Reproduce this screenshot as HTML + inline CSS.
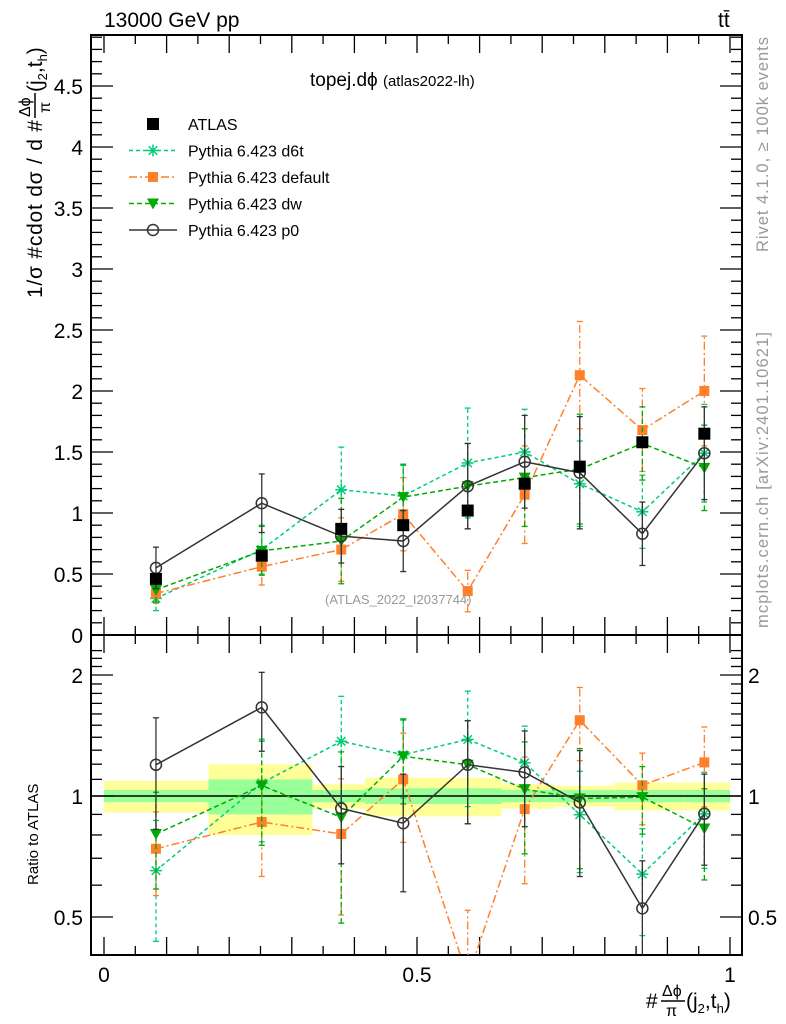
<!DOCTYPE html>
<html><head><meta charset="utf-8"><style>
html,body{margin:0;padding:0;background:#fff;width:786px;height:1024px;overflow:hidden;}
svg{display:block;font-family:"Liberation Sans",sans-serif;}
</style></head><body>
<svg id="c" width="786" height="1024" viewBox="0 0 786 1024" overflow="hidden" xmlns="http://www.w3.org/2000/svg">
<g id="bands"></g>
<g id="grid"></g>
<g id="series"></g>
<text x="104" y="27" font-size="21">13000 GeV pp</text>
<text x="718" y="27" font-size="21">tt̄</text>
<text x="310" y="86" font-size="19">topej.dϕ <tspan font-size="15">(atlas2022-lh)</tspan></text>
<text x="325" y="604" font-size="13" fill="#999">(ATLAS_2022_I2037744)</text>
<text transform="translate(768,252) rotate(-90)" font-size="16.5" fill="#999" textLength="215">Rivet 4.1.0, ≥ 100k events</text>
<text transform="translate(768,628) rotate(-90)" font-size="16.5" fill="#999" textLength="296">mcplots.cern.ch [arXiv:2401.10621]</text>
<g transform="translate(42,298) rotate(-90)">
<text x="0" y="0" font-size="21" textLength="178">1/σ #cdot dσ / d #</text>
<text x="181" y="-12" font-size="16">Δϕ</text>
<line x1="180" y1="-7" x2="205" y2="-7" stroke="#000" stroke-width="1.5"/>
<text x="185" y="8" font-size="16">π</text>
<text x="206" y="0" font-size="21">(j<tspan font-size="13" dy="5">2</tspan><tspan dy="-5">,t</tspan><tspan font-size="13" dy="5">h</tspan><tspan dy="-5">)</tspan></text>
</g>
<text transform="translate(38,885) rotate(-90)" font-size="15">Ratio to ATLAS</text>
<g>
<text x="646" y="1008" font-size="21">#</text>
<text x="662" y="996" font-size="16">Δϕ</text>
<line x1="661" y1="1001" x2="685" y2="1001" stroke="#000" stroke-width="1.5"/>
<text x="666" y="1016" font-size="16">π</text>
<text x="686" y="1008" font-size="21">(j<tspan font-size="13" dy="5">2</tspan><tspan dy="-5">,t</tspan><tspan font-size="13" dy="5">h</tspan><tspan dy="-5">)</tspan></text>
</g>
<g id="legend"></g>
</svg>
<script>
const xs = [0.083,0.252,0.379,0.478,0.581,0.672,0.760,0.860,0.959];
const edges = [0,0.167,0.333,0.417,0.5,0.635,0.72,0.815,0.927,1];
const atlas = [0.46,0.65,0.87,0.90,1.02,1.24,1.38,1.58,1.65];
const statRel = [0.035,0.10,0.035,0.045,0.045,0.035,0.035,0.035,0.035];
const totRel = [0.09,0.20,0.07,0.11,0.11,0.07,0.06,0.08,0.08];
const d6t = [0.30,0.70,1.19,1.14,1.41,1.50,1.24,1.01,1.49];
const d6tErr = [0.10,0.20,0.35,0.25,0.45,0.35,0.35,0.30,0.40];
const def = [0.34,0.56,0.70,0.99,0.36,1.15,2.13,1.68,2.00];
const defErr = [0.08,0.15,0.26,0.30,0.17,0.40,0.44,0.34,0.45];
const dw = [0.37,0.69,0.77,1.13,1.22,1.29,1.36,1.57,1.37];
const dwErr = [0.10,0.20,0.35,0.27,0.35,0.40,0.45,0.30,0.35];
const p0 = [0.55,1.08,0.81,0.77,1.22,1.42,1.33,0.83,1.49];
const p0Err = [0.17,0.24,0.22,0.25,0.35,0.38,0.46,0.26,0.38];
const yTicks = [0,0.5,1,1.5,2,2.5,3,3.5,4,4.5];
const rTicks = [0.5,1,2];
const xTicks = [0,0.5,1];

const NS="http://www.w3.org/2000/svg";
const L=91,R=742,T=35,MB=635,RB=955;
const X=v=>104+v*626;
const Y=v=>635-v*122;
const RY=v=>796-Math.log2(v)*121;
function mk(tag,attrs,parent){const e=document.createElementNS(NS,tag);for(const k in attrs)e.setAttribute(k,attrs[k]);parent.appendChild(e);return e;}
const grid=document.getElementById('grid'),bands=document.getElementById('bands'),ser=document.getElementById('series'),leg=document.getElementById('legend');
const clipR=mk('clipPath',{id:'cr'},document.getElementById('c'));mk('rect',{x:L,y:MB,width:R-L,height:RB-MB},clipR);
const clipM=mk('clipPath',{id:'cm'},document.getElementById('c'));mk('rect',{x:L,y:T,width:R-L,height:MB-T},clipM);

for(let i=0;i<9;i++){
  const x1=X(edges[i]),x2=X(edges[i+1]);
  const y=mk('rect',{x:x1,y:RY(1+totRel[i]),width:x2-x1,height:RY(1-totRel[i])-RY(1+totRel[i]),fill:'#ffff99'},bands);
  
  
  const g=mk('rect',{x:x1,y:RY(1+statRel[i]),width:x2-x1,height:RY(1-statRel[i])-RY(1+statRel[i]),fill:'#99ff99'},bands);
  
  
}
mk('line',{x1:L,y1:RY(1),x2:R,y2:RY(1),stroke:'#000','stroke-width':1.5},bands);

mk('rect',{x:L,y:T,width:R-L,height:RB-T,fill:'none',stroke:'#000','stroke-width':2},grid);
mk('line',{x1:L,y1:MB,x2:R,y2:MB,stroke:'#000','stroke-width':2},grid);
for(let v=0;v<=4.9;v+=0.1){const m=Math.abs(v*2-Math.round(v*2))<1e-6;const len=m?22:11;const y=Y(v);
 mk('line',{x1:L,y1:y,x2:L+len,y2:y,stroke:'#000','stroke-width':1.3},grid);mk('line',{x1:R,y1:y,x2:R-len,y2:y,stroke:'#000','stroke-width':1.3},grid);}
yTicks.forEach(v=>{const t=mk('text',{x:L-8,y:Y(v)+8,'font-size':21,'text-anchor':'end'},grid);t.textContent=String(v);
 
 });
for(let v=0.4;v<=2.31;v+=0.1){const m=[0.5,1,2].some(k=>Math.abs(k-v)<1e-6);const len=m?22:11;const y=RY(v);if(y<MB||y>RB)continue;
 mk('line',{x1:L,y1:y,x2:L+len,y2:y,stroke:'#000','stroke-width':1.3},grid);mk('line',{x1:R,y1:y,x2:R-len,y2:y,stroke:'#000','stroke-width':1.3},grid);}
rTicks.forEach(v=>{const t=mk('text',{x:L-8,y:RY(v)+8,'font-size':21,'text-anchor':'end'},grid);t.textContent=String(v);
 
 
 const t2=mk('text',{x:R+6,y:RY(v)+8,'font-size':21},grid);t2.textContent=String(v);
 
 });
for(let k=0;k<=20;k++){const v=k*0.05;const m=k%2===0;const len=m?18:9;const x=X(v);
 [[MB,-1],[RB,-1],[T,1],[MB,1]].forEach(([y0,d])=>mk('line',{x1:x,y1:y0,x2:x,y2:y0+d*len,stroke:'#000','stroke-width':1.3},grid));}
xTicks.forEach(v=>{const t=mk('text',{x:X(v),y:982,'font-size':21,'text-anchor':'middle'},grid);t.textContent=String(v);
 
 });

function marker(kind,x,y,col,g){
 if(kind==='sq')mk('rect',{x:x-6,y:y-6,width:12,height:12,fill:col},g);
 else if(kind==='sqs')mk('rect',{x:x-5,y:y-5,width:10,height:10,fill:col},g);
 else if(kind==='tri')mk('path',{d:`M${x-6},${y-5}L${x+6},${y-5}L${x},${y+6}Z`,fill:col},g);
 else if(kind==='star'){for(let a=0;a<4;a++){const r=a*Math.PI/4;mk('line',{x1:x-6*Math.cos(r),y1:y-6*Math.sin(r),x2:x+6*Math.cos(r),y2:y+6*Math.sin(r),stroke:col,'stroke-width':1.5},g);}}
 else if(kind==='circ')mk('circle',{cx:x,cy:y,r:5.5,fill:'none',stroke:col,'stroke-width':1.5},g);
}
function drawSeries(name,vals,errs,col,dash,kind,ratio){
 const g=mk('g',{'clip-path':ratio?'url(#cr)':'url(#cm)'},ser);
 
 
 const f=ratio?(v,i)=>RY(Math.max(v/atlas[i],0.01)):(v)=>Y(v);
 mk('polyline',{points:vals.map((v,i)=>X(xs[i])+','+f(v,i)).join(' '),fill:'none',stroke:col,'stroke-width':1.5,'stroke-dasharray':dash},g);
 vals.forEach((v,i)=>{const x=X(xs[i]);
  const lo=ratio?RY(Math.max((v-errs[i])/atlas[i],0.01)):Y(v-errs[i]);const hi=ratio?RY((v+errs[i])/atlas[i]):Y(v+errs[i]);
  mk('line',{x1:x,y1:lo,x2:x,y2:hi,stroke:col,'stroke-width':1.3,'stroke-dasharray':dash},g);
  mk('line',{x1:x-3,y1:lo,x2:x+3,y2:lo,stroke:col,'stroke-width':1.3},g);mk('line',{x1:x-3,y1:hi,x2:x+3,y2:hi,stroke:col,'stroke-width':1.3},g);
  marker(kind,x,f(v,i),col,g);});
}
const S=[['d6t',d6t,d6tErr,'#00cc77','4,3','star'],['default',def,defErr,'#ff7f2a','8,3,2,3','sqs'],['dw',dw,dwErr,'#00aa00','5,3','tri'],['p0',p0,p0Err,'#333333','','circ']];
S.forEach(s=>{drawSeries('pythia-'+s[0],s[1],s[2],s[3],s[4],s[5],false);drawSeries('pythia-'+s[0],s[1],s[2],s[3],s[4],s[5],true);});
const ga=mk('g',{},ser);


atlas.forEach((v,i)=>marker('sq',X(xs[i]),Y(v),'#000',ga));

const labels=['ATLAS','Pythia 6.423 d6t','Pythia 6.423 default','Pythia 6.423 dw','Pythia 6.423 p0'];
const lk=[['sq','#000',''],['star','#00cc77','4,3'],['sqs','#ff7f2a','8,3,2,3'],['tri','#00aa00','5,3'],['circ','#333','']];
labels.forEach((lab,i)=>{const y=124+i*26.5;const g=mk('g',{},leg);
 
 
 if(i>0)mk('line',{x1:129,y1:y,x2:177,y2:y,stroke:lk[i][1],'stroke-width':1.5,'stroke-dasharray':lk[i][2]},g);
 marker(lk[i][0],153,y,lk[i][1],g);
 const t=mk('text',{x:188,y:y+6,'font-size':16},g);t.textContent=lab;});
</script>
</body></html>
